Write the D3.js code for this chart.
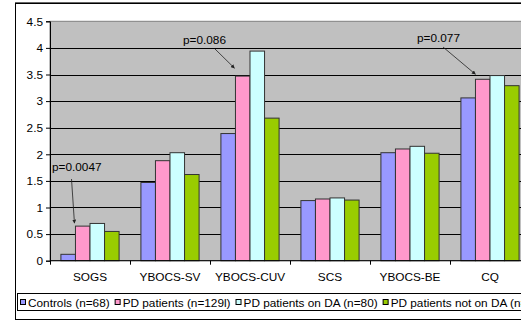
<!DOCTYPE html>
<html>
<head>
<meta charset="utf-8">
<script src="https://cdn.jsdelivr.net/npm/d3@7"></script>
<style>
  body { margin: 0; background: #fff; }
  svg { font-family: Arial, "Liberation Sans", sans-serif; }
</style>
</head>
<body>
<svg id="chart" width="521" height="324"></svg>
<script>
// data
var categories = ["SOGS", "YBOCS-SV", "YBOCS-CUV", "SCS", "YBOCS-BE", "CQ"];
var seriesNames = ["Controls (n=68)", "PD patients (n=129l)", "PD patients on DA (n=80)", "PD patients not on DA (n=49)"];
var controls = [0.12, 1.47, 2.39, 1.13, 2.03, 3.06];
var pdAll = [0.65, 1.88, 3.47, 1.16, 2.10, 3.41];
var pdOnDA = [0.70, 2.03, 3.94, 1.18, 2.15, 3.48];
var pdNotOnDA = [0.55, 1.62, 2.68, 1.14, 2.02, 3.29];
var yTicks = [0, 0.5, 1, 1.5, 2, 2.5, 3, 3.5, 4, 4.5];
var notes = [
  { text: "p=0.0047", cat: 0, series: 1 },
  { text: "p=0.086", cat: 2, series: 1 },
  { text: "p=0.077", cat: 5, series: 1 }
];

var colors = ["#9999FF", "#FF99CC", "#CCFFFF", "#99CC00"];
var allSeries = [controls, pdAll, pdOnDA, pdNotOnDA];
var fontSize = 11.8;

var svg = d3.select("#chart");
var plot = { left: 50, right: 530, top: 21.3, bottom: 260.7 };

// outer chart frame
svg.append("rect")
  .attr("x", 15.5).attr("y", 3.5)
  .attr("width", 540).attr("height", 316)
  .attr("fill", "#fff").attr("stroke", "#000").attr("stroke-width", 1);
svg.append("line")
  .attr("x1", 15).attr("x2", 521).attr("y1", 2.5).attr("y2", 2.5)
  .attr("stroke", "#666");

var x0 = d3.scaleBand()
  .domain(categories)
  .range([plot.left, plot.right])
  .paddingInner(0).paddingOuter(0);

var x1 = d3.scaleBand()
  .domain(d3.range(allSeries.length))
  .range([0, x0.bandwidth()])
  .paddingOuter(0.75).paddingInner(0);

var y = d3.scaleLinear()
  .domain([0, 4.5])
  .range([plot.bottom, plot.top]);

// plot area
svg.append("rect")
  .attr("x", plot.left).attr("y", plot.top)
  .attr("width", plot.right - plot.left).attr("height", plot.bottom - plot.top)
  .attr("fill", "#C0C0C0").attr("stroke", "#808080");

// gridlines
svg.append("g")
  .selectAll("line")
  .data(yTicks.slice(1, -1))
  .enter().append("line")
  .attr("x1", plot.left).attr("x2", plot.right)
  .attr("y1", function(d){ return Math.round(y(d)) + 0.5 })
  .attr("y2", function(d){ return Math.round(y(d)) + 0.5 })
  .attr("stroke", "#000").attr("stroke-width", 1);

// bars
var groups = svg.append("g")
  .selectAll("g")
  .data(categories)
  .enter().append("g")
  .attr("transform", function(d){ return "translate(" + x0(d) + ",0)" });

groups.selectAll("rect")
  .data(function(d, i){
    return allSeries.map(function(s, k){ return { k: k, v: s[i] } });
  })
  .enter().append("rect")
  .attr("x", function(d){ return x1(d.k) })
  .attr("width", x1.bandwidth())
  .attr("y", function(d){ return y(d.v) })
  .attr("height", function(d){ return plot.bottom - y(d.v) })
  .attr("fill", function(d){ return colors[d.k] })
  .attr("stroke", "#333").attr("stroke-width", 1);

// y axis
var yAxis = d3.axisLeft(y)
  .tickValues(yTicks)
  .tickSize(4)
  .tickFormat(d3.format("~g"));

var gy = svg.append("g")
  .attr("transform", "translate(" + plot.left + ",0)")
  .call(yAxis);
gy.select(".domain").attr("stroke", "#000");
gy.selectAll("text").attr("font-size", fontSize).attr("fill", "#000")
  .attr("font-family", "Arial, 'Liberation Sans', sans-serif");

// x axis: ticks at category boundaries, labels centered
svg.append("line")
  .attr("x1", plot.left).attr("x2", plot.right)
  .attr("y1", plot.bottom).attr("y2", plot.bottom)
  .attr("stroke", "#000");

svg.append("g")
  .selectAll("line")
  .data(categories)
  .enter().append("line")
  .attr("x1", function(d){ return x0(d) + 0.5 })
  .attr("x2", function(d){ return x0(d) + 0.5 })
  .attr("y1", plot.bottom).attr("y2", plot.bottom + 4)
  .attr("stroke", "#000");

svg.append("g")
  .selectAll("text")
  .data(categories)
  .enter().append("text")
  .attr("x", function(d){ return x0(d) + x0.bandwidth() / 2 })
  .attr("y", 281)
  .attr("text-anchor", "middle")
  .attr("font-size", fontSize)
  .text(function(d){ return d });

// p-value notes with arrows
svg.append("defs").append("marker")
  .attr("id", "arrow")
  .attr("viewBox", "0 0 10 10")
  .attr("refX", 9).attr("refY", 5)
  .attr("markerWidth", 5).attr("markerHeight", 5)
  .attr("orient", "auto")
  .append("path")
  .attr("d", "M0,0 L10,5 L0,10 z")
  .attr("fill", "#222");

var notePos = [
  { tx: 52, ty: 171, ax1: 71.5, ay1: 179, dx: -1, dy: -3 },
  { tx: 183, ty: 44, ax1: 215, ay1: 49, dx: -1, dy: -8 },
  { tx: 417, ty: 42, ax1: 443, ay1: 47, dx: 0, dy: -5 }
];

notes.forEach(function(n, i){
  var p = notePos[i];
  var bx = x0(categories[n.cat]) + x1(n.series) + p.dx;
  var by = y(allSeries[n.series][n.cat]) + p.dy;
  svg.append("text")
    .attr("x", p.tx).attr("y", p.ty)
    .attr("font-size", fontSize).attr("fill", "#000")
    .text(n.text);
  svg.append("line")
    .attr("x1", p.ax1).attr("y1", p.ay1)
    .attr("x2", bx).attr("y2", by)
    .attr("stroke", "#222").attr("stroke-width", 0.8)
    .attr("marker-end", "url(#arrow)");
});

// legend
svg.append("rect")
  .attr("x", 17.5).attr("y", 293.5)
  .attr("width", 540).attr("height", 17)
  .attr("fill", "#fff").attr("stroke", "#000");

var lx = 20;
seriesNames.forEach(function(name, i){
  svg.append("rect")
    .attr("x", lx + 0.5).attr("y", 299.5)
    .attr("width", 5).attr("height", 5)
    .attr("fill", colors[i]).attr("stroke", "#000");
  var t = svg.append("text")
    .attr("x", lx + 8).attr("y", 306.5)
    .attr("font-size", fontSize)
    .text(name);
  lx += 8 + t.node().getComputedTextLength() + 5;
});
</script>
</body>
</html>
